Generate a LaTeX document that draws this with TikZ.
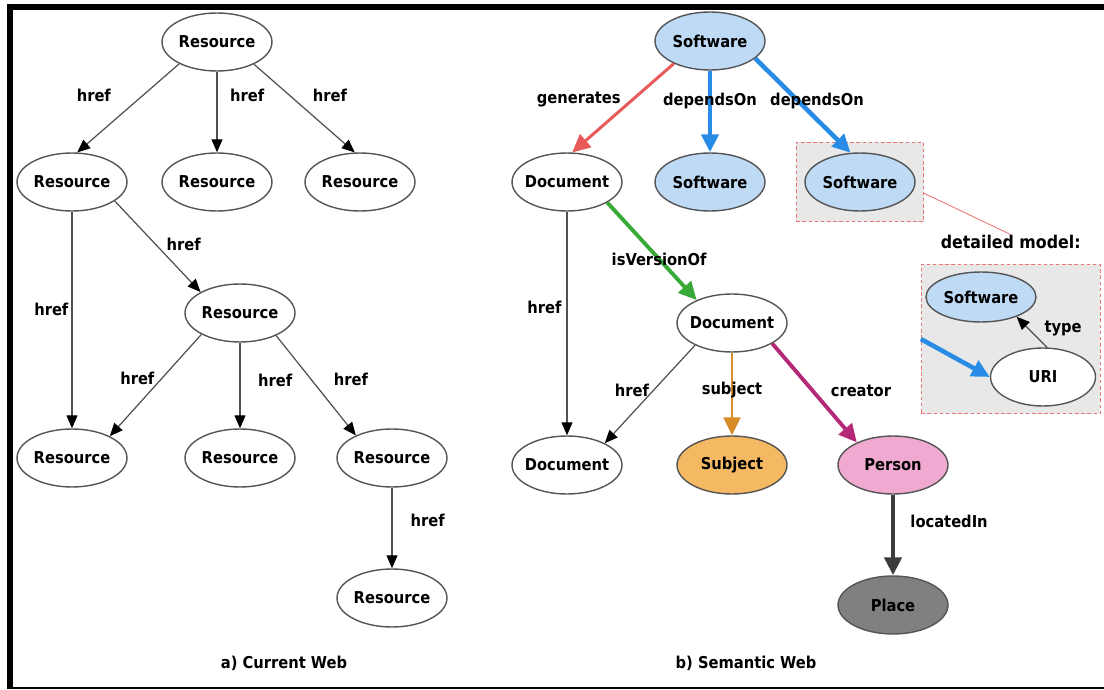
\documentclass[tikz,border=0pt]{standalone}
\usepackage{fontspec}
\setmainfont{DejaVu Sans Condensed}
\usepackage{tikz}
\usetikzlibrary{positioning,fit,shapes.geometric,arrows.meta,backgrounds}

\definecolor{nodeline}{RGB}{85,85,85}
\definecolor{linkgray}{RGB}{80,80,80}
\definecolor{swfill}{RGB}{190,218,245}
\definecolor{swlink}{RGB}{40,140,230}
\definecolor{genlink}{RGB}{232,90,90}
\definecolor{verlink}{RGB}{55,170,55}
\definecolor{subjfill}{RGB}{245,185,100}
\definecolor{subjlink}{RGB}{215,140,40}
\definecolor{persfill}{RGB}{240,170,210}
\definecolor{credlink}{RGB}{180,40,120}
\definecolor{placefill}{RGB}{128,128,128}
\definecolor{loclink}{RGB}{60,60,60}
\definecolor{boxfill}{RGB}{232,232,232}
\definecolor{boxline}{RGB}{235,120,120}

\tikzset{
  res/.style={on grid, ellipse, draw=nodeline, line width=0.8pt, fill=white,
    minimum width=2.2cm, minimum height=1.16cm, inner xsep=-0.1cm, inner ysep=0pt},
  sw/.style={res, fill=swfill},
  link/.style={draw=linkgray, line width=0.7pt,
    -{Triangle[length=0.26cm,width=0.22cm,color=black]}},
  arr/.style={-{Triangle[length=0.36cm,width=0.34cm]}},
  zoombox/.style={draw=boxline, fill=boxfill, line width=0.5pt,
    dash pattern=on 2pt off 1.5pt},
}

\begin{document}
\begin{tikzpicture}[every node/.style={font=\fontsize{9.3}{11}\selectfont\bfseries, inner sep=0pt}]
  \useasboundingbox (0,0) rectangle (22.08,-13.8);

  % a) current web
  \node[res] (r0) at (4.34,-0.84) {Resource};
  \node[res, below left=2.8cm and 2.9cm of r0] (r1) {Resource};
  \node[res, below=2.8cm of r0] (r2) {Resource};
  \node[res, below right=2.8cm and 2.86cm of r0] (r3) {Resource};
  \node[res, below right=2.62cm and 3.36cm of r1] (r4) {Resource};
  \node[res, below left=2.9cm and 3.36cm of r4] (r5) {Resource};
  \node[res, below=2.9cm of r4] (r6) {Resource};
  \node[res, below right=2.9cm and 3.04cm of r4] (r7) {Resource};
  \node[res, below=2.8cm of r7] (r8) {Resource};

  \draw[link] (r0.210) -- node[pos=0.36, left=0.62cm] {href} (r1.80);
  \draw[link] (r0) -- node[pos=0.3, right=0.25cm] {href} (r2);
  \draw[link] (r0.-31) -- node[pos=0.35, right=0.46cm] {href} (r3.100);
  \draw[link] (r1.-24) -- node[pos=0.48, right=0.2cm] {href} (r4.152);
  \draw[link] (r1) -- node[pos=0.45, left=0.06cm] {href} (r5);
  \draw[link] (r4.209) -- node[pos=0.43, left=0.14cm] {href} (r5.30);
  \draw[link] (r4) -- node[pos=0.44, right=0.35cm] {href} (r6);
  \draw[link] (r4.-32) -- node[pos=0.44, right=0.44cm] {href} (r7.148);
  \draw[link] (r7) -- node[pos=0.4, right=0.36cm] {href} (r8);

  \node (capa) at (5.68,-13.26) {a) Current Web};

  % b) semantic web
  \node[sw] (sw0) at (14.2,-0.82) {Software};
  \node[res, below left=2.82cm and 2.86cm of sw0] (doc1) {Document};
  \node[sw, below=2.82cm of sw0] (sw1) {Software};
  \node[sw, below right=2.82cm and 3.0cm of sw0] (sw2) {Software};
  \node[res, below right=2.82cm and 3.3cm of doc1] (doc2) {Document};
  \node[res, below left=2.84cm and 3.3cm of doc2] (doc3) {Document};
  \node[res, below=2.84cm of doc2, fill=subjfill] (subj) {Subject};
  \node[res, below right=2.84cm and 3.22cm of doc2, fill=persfill] (person) {Person};
  \node[res, below=2.8cm of person, fill=placefill] (place) {Place};

  % detailed model
  \node[sw, below right=2.3cm and 2.42cm of sw2, minimum height=1.0cm] (sw3) {Software};
  \node[res, below right=1.6cm and 1.24cm of sw3, minimum width=2.1cm] (uri) {URI};

  \begin{scope}[on background layer]
    \node[zoombox, fit=(sw2), inner xsep=0.16cm, inner ysep=0.2cm] (swbox) {};
    \node[zoombox, fit=(sw3)(uri), inner xsep=0.08cm, inner ysep=0.14cm] (detbox) {};
  \end{scope}
  \node[above=0.3cm of detbox, font=\fontsize{10}{12}\selectfont\bfseries] (detlabel) {detailed model:};
  \draw[boxline, line width=0.5pt] (swbox.-10) -- (detlabel.north);

  \draw[genlink, line width=1.7pt, arr] (sw0.212) -- node[pos=0.4, left=0.22cm, black] {generates} (doc1.80);
  \draw[swlink, line width=2.6pt, arr] (sw0) -- node[pos=0.37, black] {dependsOn} (sw1);
  \draw[swlink, line width=2.6pt, arr] (sw0.-21) -- node[pos=0.45, xshift=0.38cm, black] {dependsOn} (sw2.108);
  \draw[verlink, line width=2.2pt, arr] (doc1.-27) -- node[pos=0.58, black] {isVersionOf} (doc2.147);
  \draw[link] (doc1) -- node[pos=0.43, left=0.1cm] {href} (doc3);
  \draw[link] (doc2.211) -- node[pos=0.46, left=0.08cm] {href} (doc3.30);
  \draw[subjlink, line width=1.3pt, arr] (doc2) -- node[pos=0.45, black] {subject} (subj);
  \draw[credlink, line width=2.2pt, arr] (doc2.-27) -- node[pos=0.48, right=0.32cm, black] {creator} (person.148);
  \draw[loclink, line width=2.8pt, arr] (person) -- node[pos=0.33, right=0.3cm, black] {locatedIn} (place);
  \draw[link] (uri.82) -- node[pos=0.63, right=0.32cm] {type} (sw3.-29);
  \draw[swlink, line width=2.6pt, arr] (detbox.west) -- (uri.west);

  \node (capb) at (14.92,-13.26) {b) Semantic Web};

  % frame
  \draw[line width=0.12cm] (0.2,-13.78) -- (0.2,-0.15) -- (22.08,-0.15);
  \draw[line width=0.04cm] (0.2,-13.76) -- (22.08,-13.76);
\end{tikzpicture}
\end{document}
